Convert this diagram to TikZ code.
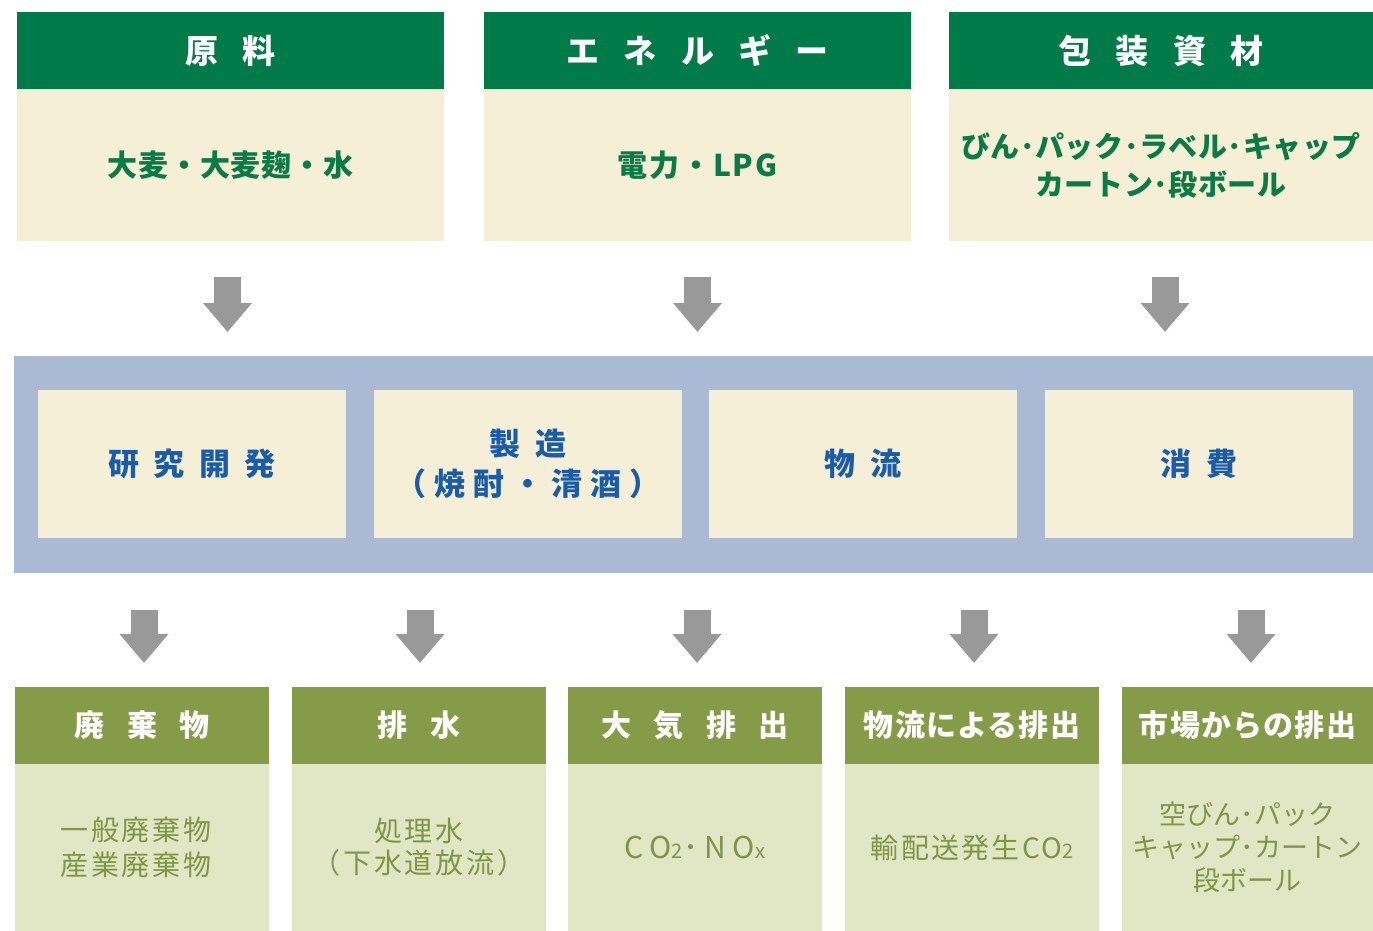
\documentclass[tikz,border=0pt]{standalone}
\usepackage{fontspec}
\setmainfont{Noto Sans CJK JP}
\usetikzlibrary{arrows.meta}
\definecolor{dkgreen}{HTML}{007A48}
\definecolor{beige}{HTML}{F5EFD7}
\definecolor{bandblue}{HTML}{AABAD5}
\definecolor{bluetxt}{HTML}{1A5CA8}
\definecolor{olive}{HTML}{869B48}
\definecolor{ltolive}{HTML}{E1E6C4}
\definecolor{olivetxt}{HTML}{809546}
\definecolor{greentxt}{HTML}{0B7A45}
\definecolor{arrowgray}{HTML}{999999}
\newcommand{\fs}[2]{\fontsize{#1}{#2}\selectfont}
\newcommand{\ls}[1]{\addfontfeature{LetterSpace=#1}}
\newcommand{\hg}{\hspace{0.74em}}
\newcommand{\bg}{\hspace{0.75em}}
\begin{document}
\begin{tikzpicture}[x=1pt,y=-1pt,
  boxbase/.style={anchor=north west,inner sep=0pt,outer sep=0pt,align=center},
  tophdr/.style={boxbase,fill=dkgreen,text=white,minimum height=77pt,font=\fs{33}{38}\bfseries},
  topbody/.style={boxbase,fill=beige,text=greentxt,minimum height=152pt,font=\fs{29}{38}\bfseries},
  bandbox/.style={boxbase,fill=bandblue,minimum width=1359pt,minimum height=217pt},
  stage/.style={boxbase,fill=beige,text=bluetxt,minimum width=308pt,minimum height=148pt,font=\fs{31}{40}\bfseries},
  bothdr/.style={boxbase,fill=olive,text=white,minimum height=77pt,font=\fs{30}{34}\bfseries},
  botbody/.style={boxbase,fill=ltolive,text=olivetxt,minimum height=167pt,font=\fs{28}{33}},
  blockarrow/.style={draw=arrowgray,line width=27pt,-{Triangle[width=47pt,length=29pt]},arrowgray}
]
\useasboundingbox (0,0) rectangle (1373,931);
% top
\node[tophdr,minimum width=427pt] (h1) at (17,12) {原\hg 料};
\node[tophdr,minimum width=427pt] (h2) at (484,12) {エ\hg ネ\hg ル\hg ギ\hg ー};
\node[tophdr,minimum width=424pt] (h3) at (949,12) {包\hg 装\hg 資\hg 材};
\node[topbody,minimum width=427pt,font=\fs{30}{38}\bfseries] (b1) at (17,89) {\ls{3}大麦・大麦麹・水};
\node[topbody,minimum width=427pt,font=\fs{30}{38}\bfseries] (b2) at (484,89) {\ls{6}電力・LPG};
\node[topbody,minimum width=424pt] (b3) at (949,89) {\ls{2}びん･パック･ラベル･キャップ\\\ls{2}カートン･段ボール};
% band
\node[bandbox] (band) at (14,356) {};
\node[stage] (s1) at (38,390) {\ls{46}研究開発};
\node[stage] (s2) at (374,390) {\ls{46}製造\\\ls{26}（焼酎・清酒）};
\node[stage] (s3) at (709,390) {\ls{46}物流};
\node[stage] (s4) at (1045,390) {\ls{46}消費};
% bottom
\node[bothdr,minimum width=254pt] (w1) at (15,687) {廃\bg 棄\bg 物};
\node[bothdr,minimum width=254pt] (w2) at (292,687) {排\bg 水};
\node[bothdr,minimum width=254pt] (w3) at (568,687) {大\bg 気\bg 排\bg 出};
\node[bothdr,minimum width=254pt] (w4) at (845,687) {\ls{4}物流による排出};
\node[bothdr,minimum width=251pt] (w5) at (1122,687) {\ls{4}市場からの排出};
\node[botbody,minimum width=254pt,font=\fs{28}{35}] (d1) at (15,764) {\ls{10}一般廃棄物\kern12pt\\\ls{10}産業廃棄物\kern12pt};
\node[botbody,minimum width=254pt,font=\fs{28}{32}] (d2) at (292,764) {\ls{10}処理水\\\ls{10}（下水道放流）};
\node[botbody,minimum width=254pt] (d3) at (568,764) {\fs{30}{33}\ls{22}CO{\fs{20}{20}\ls{22}2}･NO{\fs{20}{20}\ls{22}x}};
\node[botbody,minimum width=254pt] (d4) at (845,764) {\ls{8}輸配送発生CO{\fs{20}{20}2}};
\node[botbody,minimum width=251pt,font=\fs{27}{33}] (d5) at (1122,764) {空びん･パック\\キャップ･カートン\\段ボール};
% arrows
\foreach \b/\dx in {b1/-3,b2/0,b3/4}
  \draw[blockarrow,shorten <=36pt,shorten >=24pt] ([xshift=\dx pt]\b.south) -- ([xshift=\dx pt]\b.south |- band.north);
\foreach \w/\dx in {w1/2,w2/1,w3/2,w4/2,w5/3.5}
  \draw[blockarrow,shorten <=37pt,shorten >=24pt] ([xshift=\dx pt]band.south -| \w.north) -- ([xshift=\dx pt]\w.north);
\end{tikzpicture}
\end{document}
